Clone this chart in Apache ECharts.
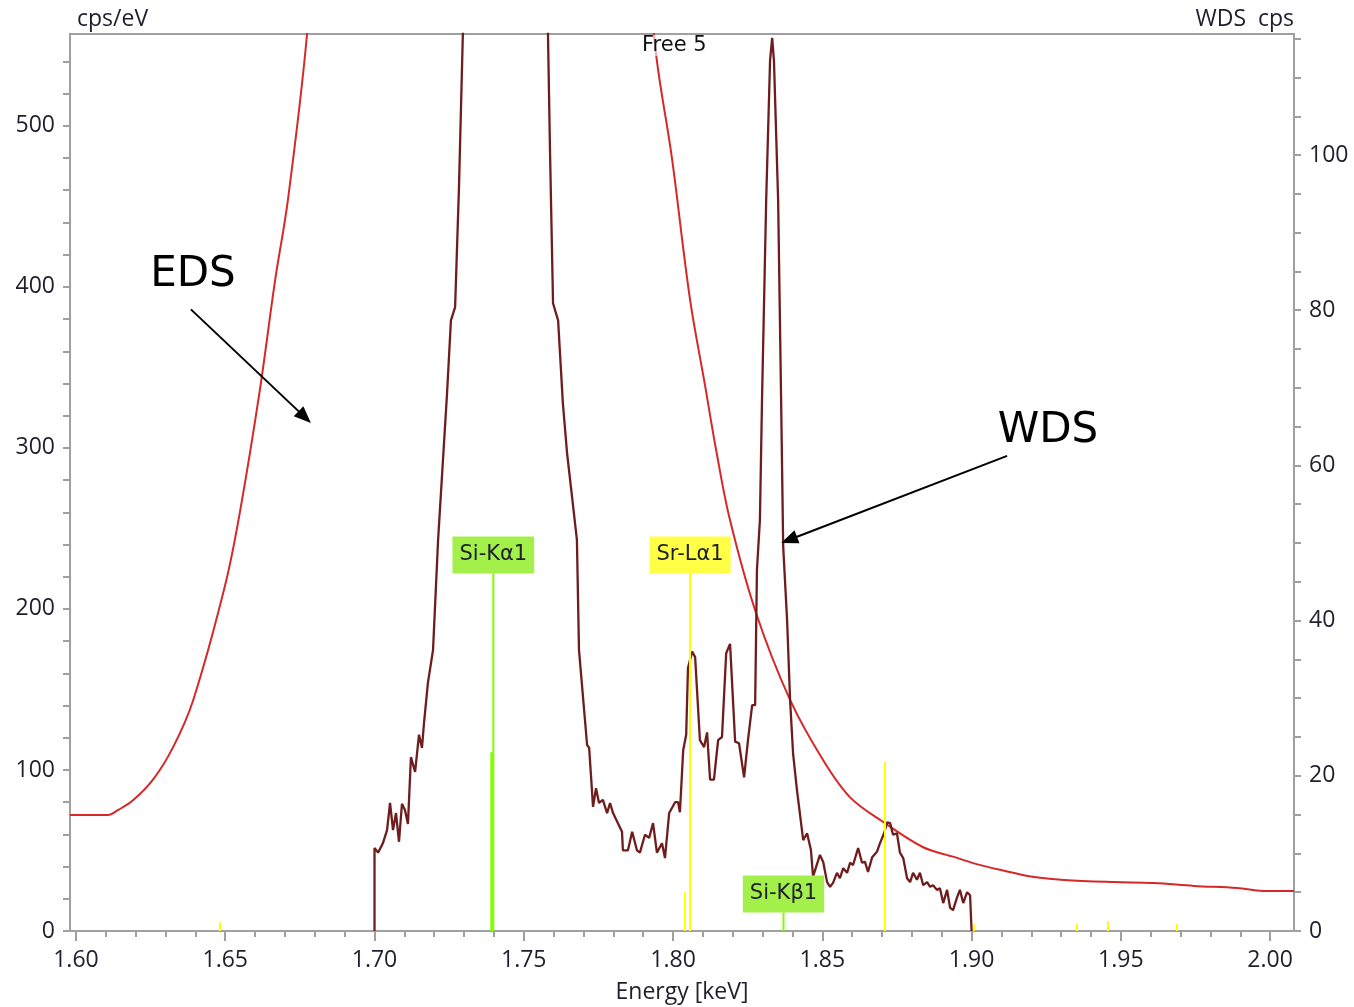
<!DOCTYPE html>
<html>
<head>
    <meta charset="utf-8">
    <title>EDS / WDS</title>
    <script src="https://cdn.jsdelivr.net/npm/echarts@6/dist/echarts.min.js"></script>
    <style>
        html, body { margin: 0; padding: 0; background: #fff; }
        #main { width: 1354px; height: 1007px; }
    </style>
</head>
<body>
<div id="main"></div>
<script type="text/javascript">
    // tick labels
    const xMajor = [1.60, 1.65, 1.70, 1.75, 1.80, 1.85, 1.90, 1.95, 2.00];
    const leftMajor = [0, 100, 200, 300, 400, 500];
    const rightMajor = [0, 20, 40, 60, 80, 100];

    // EDS spectrum, cps/eV (left axis); the Si peak runs far off scale
    const edsEnergy = [1.598, 1.6107, 1.614, 1.619, 1.6258, 1.6325, 1.6392, 1.650, 1.655, 1.6616,
        1.6667, 1.671, 1.6774, 1.680, 1.740, 1.792, 1.7936, 1.7997, 1.8057, 1.8107,
        1.8144, 1.8191, 1.8278, 1.8392, 1.8503, 1.8593, 1.8704, 1.8838, 1.8941, 1.9008,
        1.9095, 1.921, 1.931, 1.9477, 1.9611, 1.9745, 1.9889, 1.999, 2.008];
    const edsCps = [72, 72, 75, 81, 94, 114, 143, 215, 261, 336,
        404, 454, 557, 640, 900, 640, 556.5, 479, 392, 339,
        299, 255, 197.5, 143.5, 106, 83, 67.7, 52, 46, 42,
        38, 33.5, 31.7, 30.4, 29.8, 28, 26.7, 24.8, 24.8];

    // WDS scan, cps (right axis)
    const wdsEnergy = [1.7000, 1.7000, 1.7012, 1.7028, 1.7042, 1.7052, 1.7062, 1.7072, 1.7082, 1.7092,
        1.7102, 1.7112, 1.7122, 1.7136, 1.7149, 1.7159, 1.7166, 1.7179, 1.7196, 1.7213,
        1.7243, 1.7256, 1.7270, 1.7283, 1.7296,
        1.7310, 1.7440, 1.7570,
        1.7581, 1.7588, 1.7598, 1.7615, 1.7631, 1.7645, 1.7658, 1.7678, 1.7685, 1.7712,
        1.7719, 1.7732, 1.7742, 1.7752, 1.7765, 1.7779, 1.7789, 1.7799, 1.7829, 1.7832,
        1.7849, 1.7863, 1.7879, 1.7889, 1.7906, 1.7920, 1.7933, 1.7946, 1.7963, 1.7973,
        1.7987, 1.8007, 1.8017, 1.8023, 1.8034, 1.8044, 1.8050, 1.8064, 1.8074, 1.8090,
        1.8104, 1.8114, 1.8124, 1.8137, 1.8151, 1.8164, 1.8178, 1.8191, 1.8208, 1.8221,
        1.8238, 1.8251, 1.8265, 1.8275, 1.8281, 1.8291, 1.8298, 1.8312, 1.8325, 1.8332,
        1.8338, 1.8352, 1.8362, 1.8369, 1.8382, 1.8392, 1.8402, 1.8415,
        1.8436, 1.8449, 1.8462, 1.8469, 1.8492, 1.8503, 1.8516, 1.8526, 1.8536, 1.8549,
        1.8559, 1.8570, 1.8583, 1.8593, 1.8603, 1.8620, 1.8633, 1.8643, 1.8653, 1.8667,
        1.8683, 1.8693, 1.8707, 1.8717, 1.8727, 1.8737, 1.8750, 1.8760, 1.8771, 1.8784,
        1.8794, 1.8804, 1.8817, 1.8827, 1.8838, 1.8851, 1.8861, 1.8871, 1.8884, 1.8894,
        1.8905, 1.8918, 1.8928, 1.8938, 1.8951, 1.8961, 1.8972, 1.8985, 1.8995, 1.9000];
    const wdsCps = [0, 10.7, 10.1, 11.3, 13.0, 16.5, 13.0, 15.2, 11.5, 16.4,
        15.6, 13.8, 22.4, 20.5, 25.3, 23.6, 26.9, 32.0, 36.2, 50.4,
        69.3, 78.7, 80.4, 95.9, 115.7,
        140, 300, 140,
        115.7, 100.3, 80.9, 78.7, 68.0, 61.6, 57.2, 50.4, 36.2, 24.0,
        23.6, 16.0, 18.4, 16.5, 16.9, 15.2, 16.5, 15.2, 12.8, 10.4,
        10.4, 12.8, 10.4, 10.1, 12.4, 12.0, 13.9, 10.1, 11.3, 9.4,
        15.2, 16.6, 16.6, 15.3, 23.3, 25.3, 33.9, 36.0, 35.3, 24.6,
        23.7, 25.6, 19.5, 19.5, 24.6, 25.0, 35.8, 37.0, 24.4, 24.2,
        19.8, 24.6, 29.1, 29.1, 46.5, 53.0, 68.4, 94.2, 112.2, 115.1,
        112.2, 94.2, 68.4, 49.5, 40.1, 29.8, 22.9, 18.2,
        11.7, 12.6, 10.4, 7.0, 9.8, 8.9, 6.3, 5.7, 6.2, 7.5,
        6.8, 8.1, 7.5, 8.8, 8.5, 10.7, 8.8, 8.9, 7.6, 9.5,
        10.2, 11.3, 12.6, 14.0, 13.9, 12.4, 12.6, 10.1, 9.4, 6.8,
        6.3, 7.5, 6.6, 7.5, 5.9, 6.3, 5.7, 5.9, 5.3, 5.5,
        3.6, 5.3, 3.0, 2.7, 4.3, 5.3, 3.6, 5.0, 4.6, 0];

    // labelled element lines (height in cps/eV)
    const lineNames = ['Si-Kα1', 'Sr-Lα1', 'Si-Kβ1'];
    const lineEnergy = [1.7398, 1.8057, 1.8370];
    const lineTop = [222, 222, 11.5];

    // unlabelled line markers
    const tickEnergy = [1.7393, 1.8040, 1.8710, 1.6482, 1.9008, 1.9353, 1.9457, 1.9688];
    const tickHeight = [111, 24, 105, 5.5, 4.3, 4.3, 6.2, 4.3];
    const tickElement = ['Si', 'Sr', 'Sr', 'Sr', 'Sr', 'Sr', 'Sr', 'Sr'];

    // annotations, in energy / cps/eV
    const noteText = ['EDS', 'WDS'];
    const noteAt = [[1.6392, 407], [1.9256, 310.5]];
    const arrowFrom = [[1.6385, 386], [1.9119, 295]];
    const arrowTo = [[1.6787, 315.5], [1.8362, 241]];

    const gray = '#a0a0a0';
    const ink = '#1e1e2e';
    const uiFont = 'Open Sans';
    const markFont = '"DejaVu Sans"';
    const elementColor = { Si: '#80ff00', Sr: '#ffff00' };
    const boxColor = { Si: '#a3f04b', Sr: '#ffff45' };

    function pairs(xs, ys) {
        return xs.map(function (x, i) { return [x, ys[i]]; });
    }

    function lineItem(params, api) {
        const i = params.dataIndex;
        const el = lineNames[i].split('-')[0];
        const base = api.coord([api.value(0), 0]);
        const top = api.coord([api.value(0), api.value(1)]);
        return {
            type: 'group',
            children: [
                { type: 'line', shape: { x1: base[0], y1: base[1], x2: top[0], y2: top[1] },
                  style: { stroke: elementColor[el], lineWidth: 2 } },
                { type: 'text', x: top[0], y: top[1],
                  style: { text: lineNames[i], align: 'center', verticalAlign: 'bottom',
                           font: '21px ' + markFont, fill: ink,
                           backgroundColor: boxColor[el], padding: [8, 7, 8, 7] } }
            ]
        };
    }

    function tickItem(params, api) {
        const el = tickElement[params.dataIndex];
        const base = api.coord([api.value(0), 0]);
        const top = api.coord([api.value(0), api.value(1)]);
        return { type: 'line', shape: { x1: base[0], y1: base[1], x2: top[0], y2: top[1] },
                 style: { stroke: elementColor[el], lineWidth: el === 'Si' ? 3 : 2 } };
    }

    function noteItem(params, api) {
        const i = params.dataIndex;
        const at = api.coord(noteAt[i]);
        const a = api.coord(arrowFrom[i]);
        const b = api.coord(arrowTo[i]);
        const len = Math.hypot(b[0] - a[0], b[1] - a[1]);
        const ux = (b[0] - a[0]) / len, uy = (b[1] - a[1]) / len;
        const head = 17, half = 7;
        const hx = b[0] - ux * head, hy = b[1] - uy * head;
        return {
            type: 'group',
            children: [
                { type: 'line', shape: { x1: a[0], y1: a[1], x2: hx + ux * 2, y2: hy + uy * 2 },
                  style: { stroke: '#000', lineWidth: 2 } },
                { type: 'polygon', shape: { points: [[b[0], b[1]], [hx - uy * half, hy + ux * half], [hx + uy * half, hy - ux * half]] },
                  style: { fill: '#000' } },
                { type: 'text', x: at[0], y: at[1],
                  style: { text: noteText[i], align: 'center', verticalAlign: 'middle',
                           font: '42px ' + markFont, fill: '#000' } }
            ]
        };
    }

    const labelStyle = { color: ink, fontSize: 23, fontFamily: uiFont };

    let myChart = echarts.init(document.getElementById('main'));
    myChart.setOption({
        animation: false,
        grid: { left: 70, right: 60, top: 34, bottom: 76, outerBoundsMode: 'none',
                show: true, borderColor: gray, borderWidth: 2 },
        xAxis: {
            type: 'value', min: 1.598, max: 2.008, splitNumber: 8,
            name: 'Energy [keV]', nameLocation: 'middle', nameGap: 50,
            nameTextStyle: labelStyle,
            axisLine: { show: true, onZero: false, lineStyle: { color: gray, width: 2 } },
            axisTick: { length: 10, customValues: xMajor, lineStyle: { color: gray, width: 2 } },
            minorTick: { show: true, splitNumber: 5, length: 6, lineStyle: { color: gray, width: 2 } },
            axisLabel: Object.assign({ customValues: xMajor, margin: 18,
                formatter: function (v) { return v.toFixed(2); } }, labelStyle),
            splitLine: { show: false }
        },
        yAxis: [
            {
                type: 'value', min: 0, max: 557, interval: 100, position: 'left',
                name: 'cps/eV', nameLocation: 'end', nameGap: 3,
                nameTextStyle: Object.assign({ align: 'left', padding: [0, 0, 0, 7] }, labelStyle),
                axisLine: { show: true, lineStyle: { color: gray, width: 2 } },
                axisTick: { length: 7, customValues: leftMajor, lineStyle: { color: gray, width: 2 } },
                minorTick: { show: true, splitNumber: 5, length: 7, lineStyle: { color: gray, width: 2 } },
                axisLabel: Object.assign({ customValues: leftMajor, margin: 15 }, labelStyle),
                splitLine: { show: false }
            },
            {
                type: 'value', min: 0, max: 115.6, interval: 20, position: 'right',
                name: 'WDS  cps', nameLocation: 'end', nameGap: 3,
                nameTextStyle: Object.assign({ align: 'right' }, labelStyle),
                axisLine: { show: true, lineStyle: { color: gray, width: 2 } },
                axisTick: { length: 7, customValues: rightMajor, lineStyle: { color: gray, width: 2 } },
                minorTick: { show: true, splitNumber: 4, length: 7, lineStyle: { color: gray, width: 2 } },
                axisLabel: Object.assign({ customValues: rightMajor, margin: 15 }, labelStyle),
                splitLine: { show: false }
            }
        ],
        series: [
            {
                name: 'EDS', type: 'line', yAxisIndex: 0, z: 2,
                data: pairs(edsEnergy, edsCps),
                showSymbol: false, smooth: 0.35, clip: true,
                lineStyle: { color: '#d62828', width: 2 }
            },
            {
                name: 'WDS', type: 'line', yAxisIndex: 1, z: 3,
                data: pairs(wdsEnergy, wdsCps),
                showSymbol: false, clip: true,
                lineStyle: { color: '#6e1c1c', width: 2.3 }
            },
            {
                name: 'markers', type: 'custom', yAxisIndex: 0, z: 4,
                data: pairs(tickEnergy, tickHeight),
                renderItem: tickItem
            },
            {
                name: 'lines', type: 'custom', yAxisIndex: 0, z: 5,
                data: pairs(lineEnergy, lineTop),
                renderItem: lineItem
            },
            {
                name: 'notes', type: 'custom', yAxisIndex: 0, z: 6,
                data: noteAt,
                renderItem: noteItem
            }
        ],
        graphic: [
            { type: 'text', left: 642, top: 35, z: 10,
              style: { text: 'Free 5', font: '21px ' + markFont, fill: '#111',
                       backgroundColor: 'rgba(255,255,255,0.6)' } }
        ]
    });
</script>
</body>
</html>
